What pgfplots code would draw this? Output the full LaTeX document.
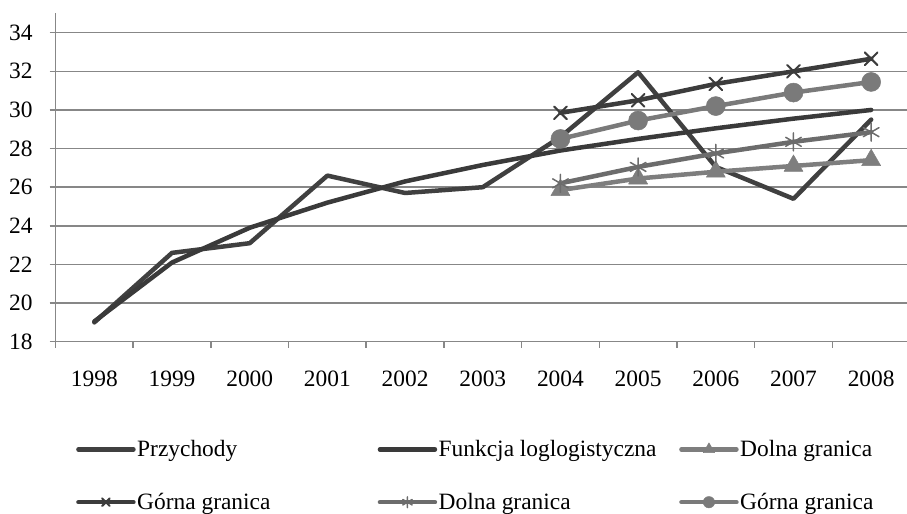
\documentclass[border=0pt]{standalone}
\usepackage{fontspec}
\setmainfont{Liberation Serif}
\usepackage{pgfplots}
\pgfplotsset{compat=1.18}

\definecolor{gridgray}{HTML}{878787}
\definecolor{revenue}{HTML}{404040}
\definecolor{loglog}{HTML}{3A3A3A}
\definecolor{lowtri}{HTML}{7E7E7E}
\definecolor{upcross}{HTML}{3C3C3C}
\definecolor{lowstar}{HTML}{6C6C6C}
\definecolor{upcirc}{HTML}{7A7A7A}

\newcommand{\chartfont}{\fontsize{23.5}{27}\selectfont}

\begin{document}
\begin{tikzpicture}[x=1bp,y=1bp]
\useasboundingbox (0,0) rectangle (907,514);
\begin{axis}[
  at={(55.5bp,172.3bp)}, anchor=south west,
  scale only axis, width=854.5bp, height=328.3bp,
  xmin=-0.5, xmax=10.5, ymin=18, ymax=35,
  ytick={18,20,...,34},
  xtick={-0.5,0.5,...,10.5},
  xticklabels={1998,1999,2000,2001,2002,2003,2004,2005,2006,2007,2008},
  x tick label as interval,
  axis lines*=left,
  axis line style={gridgray, line width=1.5bp},
  ymajorgrids,
  grid style={gridgray, line width=1.5bp},
  tick style={gridgray, line width=1.5bp},
  major tick length=6bp, tick align=outside,
  tick label style={font=\chartfont, text=black},
  /pgf/number format/assume math mode=true,
  xticklabel style={yshift=-20bp},
  yticklabel style={xshift=-13.5bp},
  clip=false,
  legend columns=3,
  legend cell align=left,
  legend style={draw=none, fill=none, font=\chartfont,
    at={(axis description cs:0.0240,-0.296)}, anchor=north west,
    inner sep=0pt, column sep=0pt, row sep=32bp,
    nodes={inner sep=1.5bp}},
  legend image code/.code={%
    \draw[mark repeat=2, mark phase=2, #1,
          /tikz/every mark/.append style={scale=0.6}]
      plot coordinates {(0bp,0bp) (27.5bp,0bp) (55bp,0bp)};},
  every axis plot/.append style={line width=4.5bp, line join=round, line cap=round},
]
% Revenue
\addplot[color=revenue, mark=none] coordinates {
  (0,19.0) (1,22.6) (2,23.1) (3,26.6) (4,25.7) (5,26.0)
  (6,28.6) (7,31.95) (8,27.05) (9,25.4) (10,29.5)};
\addlegendentry{\makebox[239bp][l]{Przychody}}
% Log-logistic trend
\addplot[color=loglog, mark=none] coordinates {
  (0,19.05) (1,22.1) (2,23.9) (3,25.2) (4,26.3) (5,27.15)
  (6,27.9) (7,28.5) (8,29.05) (9,29.55) (10,30.0)};
\addlegendentry{\makebox[239bp][l]{Funkcja loglogistyczna}}
% Lower bound (triangles)
\addplot[color=lowtri, mark=triangle*, mark size=11bp,
  mark options={solid, line width=0.5bp, fill=lowtri}] coordinates {
  (6,25.85) (7,26.45) (8,26.8) (9,27.1) (10,27.4)};
\addlegendentry{Dolna granica}
% Upper bound (crosses)
\addplot[color=upcross, mark=x, mark size=9bp,
  mark options={solid, line width=2bp}] coordinates {
  (6,29.85) (7,30.5) (8,31.35) (9,32.0) (10,32.65)};
\addlegendentry{\makebox[239bp][l]{Górna granica}}
% Lower bound (asterisks)
\addplot[color=lowstar, mark=asterisk, mark size=9bp,
  mark options={solid, line width=1.5bp}] coordinates {
  (6,26.2) (7,27.05) (8,27.75) (9,28.35) (10,28.85)};
\addlegendentry{\makebox[239bp][l]{Dolna granica}}
% Upper bound (circles)
\addplot[color=upcirc, mark=*, mark size=9.5bp,
  mark options={solid, line width=0.5bp, fill=upcirc}] coordinates {
  (6,28.5) (7,29.45) (8,30.2) (9,30.9) (10,31.45)};
\addlegendentry{Górna granica}
\end{axis}
\end{tikzpicture}
\end{document}
